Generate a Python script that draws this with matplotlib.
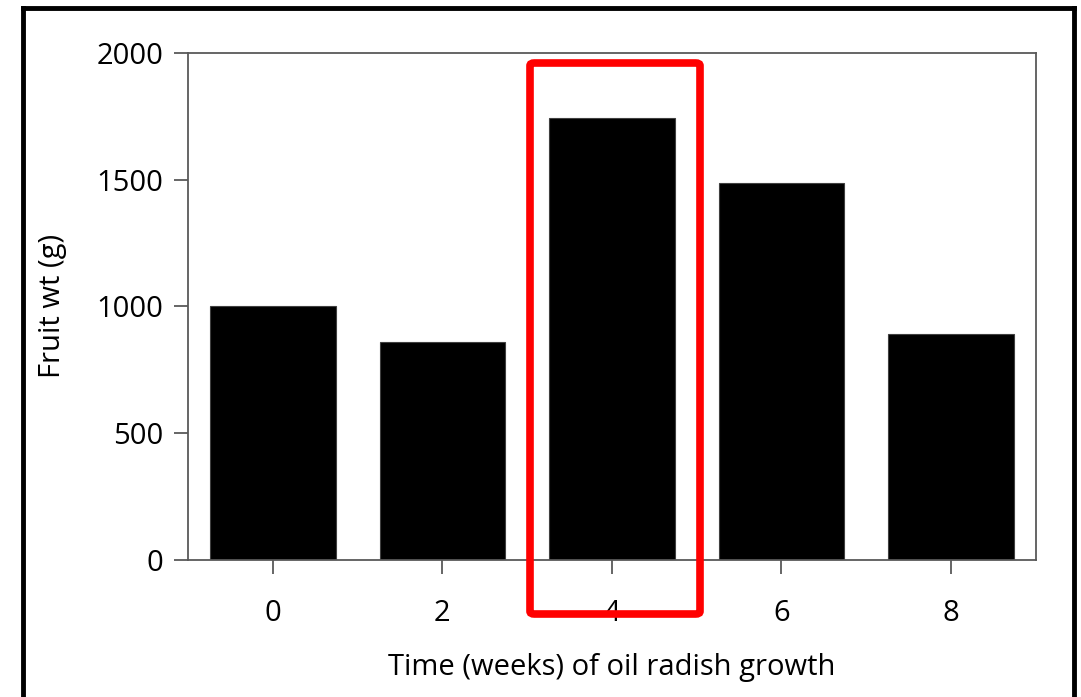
import matplotlib.pyplot as plt
from matplotlib.patches import FancyBboxPatch
from matplotlib.lines import Line2D

weeks = ['0', '2', '4', '6', '8']
fruit_wt = [1000, 860, 1745, 1487, 890]

plt.rcParams['font.family'] = ['Open Sans', 'DejaVu Sans']

fig = plt.figure(figsize=(10.81, 6.97), dpi=100)
ax = fig.add_axes([0.174, 0.197, 0.784, 0.727])

x = range(len(weeks))
ax.bar(x, fruit_wt, width=0.74, color='black', edgecolor='#404040', linewidth=0.8)

ax.set_xlim(-0.5, 4.5)
ax.set_ylim(0, 2000)
ax.set_yticks([0, 500, 1000, 1500, 2000])
ax.set_xticks(list(x))
ax.set_xticklabels(weeks)

for s in ax.spines.values():
    s.set_color('#595959')
    s.set_linewidth(1.3)
ax.tick_params(axis='both', direction='out', length=10, width=1.3, color='#595959',
               labelsize=21, pad=18)
ax.tick_params(axis='y', pad=8)

ax.set_ylabel('Fruit wt (g)', fontsize=21, labelpad=21)
ax.set_xlabel('Time (weeks) of oil radish growth', fontsize=21, labelpad=18)

# outer frame
W, H = 1081, 697
frame = [((23 / W, 23 / W), (0, 1 - 8 / H)),
         ((23 / W, 1074 / W), (1 - 8 / H, 1 - 8 / H)),
         ((1074 / W, 1074 / W), (1 - 8 / H, 0))]
for xs, ys in frame:
    fig.add_artist(Line2D(xs, ys, color='black', linewidth=3.5, transform=fig.transFigure))

# red highlight box around week 4
box = FancyBboxPatch((530 / W, 1 - 614 / H), 170 / W, 551 / H,
                     boxstyle='round,pad=0,rounding_size=0.004',
                     transform=fig.transFigure, fill=False,
                     edgecolor='#ff0000', linewidth=5.5)
fig.add_artist(box)

fig.savefig('out.png', dpi=100)
